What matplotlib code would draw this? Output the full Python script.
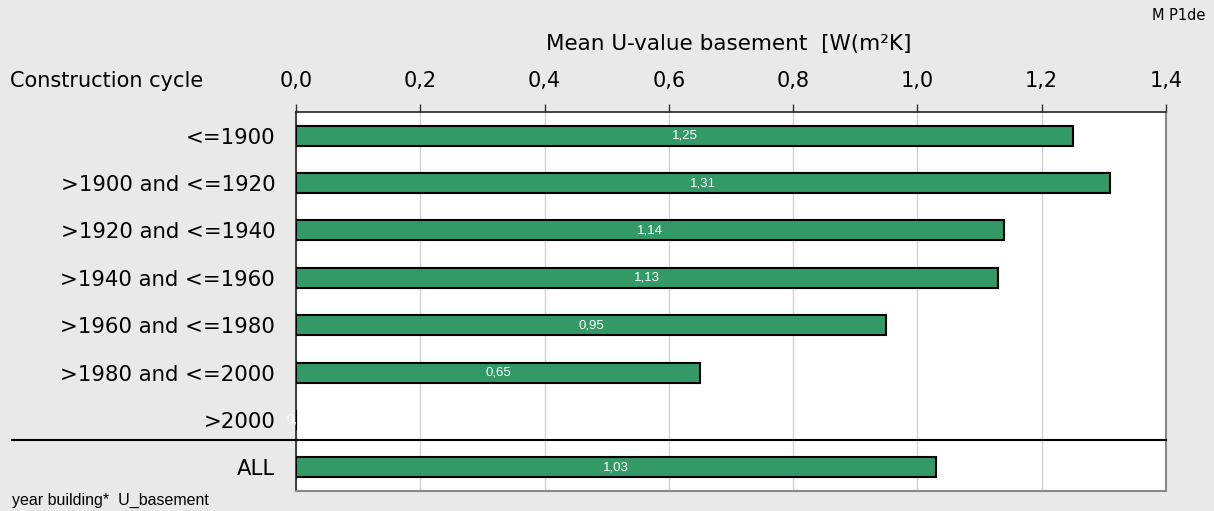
import matplotlib.pyplot as plt
import numpy as np

# Daten
categories = ['<=1900', '>1900 and <=1920', '>1920 and <=1940', '>1940 and <=1960',
              '>1960 and <=1980', '>1980 and <=2000', '>2000', 'ALL']
values = [1.25, 1.31, 1.14, 1.13, 0.95, 0.65, 0.0, 1.03]
xticks = [0.0, 0.2, 0.4, 0.6, 0.8, 1.0, 1.2, 1.4]
xtick_labels = ['0,0', '0,2', '0,4', '0,6', '0,8', '1,0', '1,2', '1,4']

bg = '#e9e9e9'
green = '#339966'
plt.rcParams['font.family'] = ['DejaVu Sans']

fig = plt.figure(figsize=(12.14, 5.11), dpi=100, facecolor=bg)
ax = fig.add_axes([296/1214, 1 - 491/511, 870/1214, 379/511])
ax.set_facecolor('white')

y = np.arange(len(categories))
ax.barh(y, values, height=0.42, color=green, edgecolor='black', linewidth=1.5, zorder=3)

for yi, v in zip(y, values):
    txt = f'{v:.2f}'.replace('.', ',')
    if v == 0:
        txt = '0,0'
    ax.text(v / 2, yi, txt, ha='center', va='center', color='white',
            fontsize=9.5, family='Liberation Sans', zorder=4, clip_on=False)

ax.set_xlim(0, 1.4)
ax.set_ylim(7.5, -0.5)
ax.set_xticks(xticks)
ax.set_xticklabels(xtick_labels)
ax.set_yticks(y)
ax.set_yticklabels(categories)
ax.xaxis.tick_top()
ax.tick_params(axis='x', length=6, width=1, color='#333333', pad=9, labelsize=15)
ax.tick_params(axis='y', length=0, pad=15, labelsize=15.3)
ax.grid(axis='x', color='#d4d4d4', linewidth=1, zorder=0)

for s in ['top', 'left']:
    ax.spines[s].set_color('#222222')
    ax.spines[s].set_linewidth(1.2)
for s in ['bottom', 'right']:
    ax.spines[s].set_color('#888888')
    ax.spines[s].set_linewidth(1.5)

# Trennlinie vor ALL
sep_y = 6.42
ax.plot([-284/870 * 1.4, 1.4], [sep_y, sep_y], color='black',
        linewidth=1.5, clip_on=False, zorder=5)

fig.text(729/1214, 1 - 44/511, 'Mean U-value basement  [W(m²K]', ha='center', va='center', fontsize=15.5)
fig.text(10/1214, 1 - 81/511, 'Construction cycle', ha='left', va='center', fontsize=15)
fig.text(1205/1214, 1 - 15/511, 'M P1de', ha='right', va='center', fontsize=10.5)
fig.text(12/1214, 1 - 500/511, 'year building*  U_basement', ha='left', va='center',
         fontsize=11.5, family='Liberation Sans')

fig.savefig('out.png', dpi=100, facecolor=bg)
